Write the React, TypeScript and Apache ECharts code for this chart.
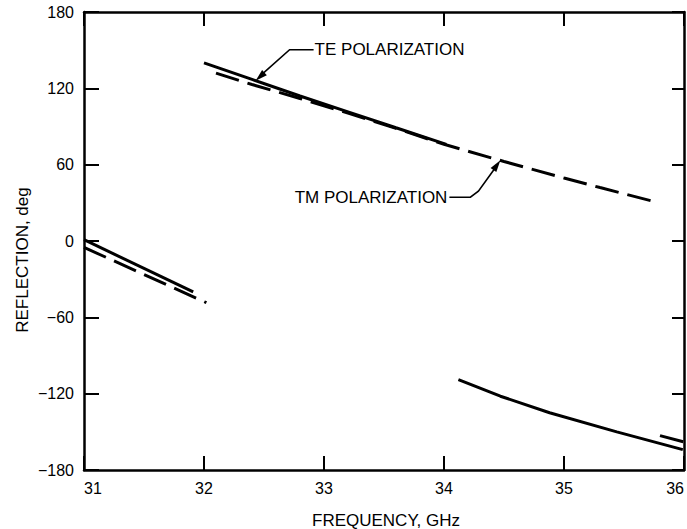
import React, { useEffect, useRef } from "react";
import * as echarts from "echarts";

// Reflection phase (deg) versus frequency (GHz)
const freqTicks = [31, 32, 33, 34, 35, 36];
const phaseTicks = [-180, -120, -60, 0, 60, 120, 180];

// TE polarization (solid), three branches between phase wraps
const teLow: [number, number][] = [[31.0, 1], [31.91, -40]];
const teMid: [number, number][] = [
  [32.0, 140], [32.4, 127], [32.8, 114], [33.2, 101.5], [33.6, 89], [34.02, 76],
];
const teHigh: [number, number][] = [
  [34.12, -109], [34.47, -122], [34.88, -135], [35.44, -150], [35.99, -164],
];

// TM polarization (dashed)
const tmLow: [number, number][] = [[31.0, -5], [32.02, -48.5]];
const tmMid: [number, number][] = [
  [32.1, 132], [32.4, 123], [32.8, 112], [33.2, 100.5], [33.6, 88.5], [34.0, 76],
  [34.5, 62.5], [35.0, 49.5], [35.3, 42], [35.75, 31],
];
const tmHigh: [number, number][] = [[35.8, -153], [36.0, -158]];

// Curve points the callout arrows point at
const teCalloutAt: [number, number] = [32.43, 126];
const tmCalloutAt: [number, number] = [34.47, 63.5];

const FONT = '"Liberation Sans", Arial, Helvetica, sans-serif';
const INK = "#000";

const fmt = (v: number) => (v < 0 ? "\u2212" + Math.abs(v) : String(v));

function arrowHead(tip: number[], from: number[], len = 12, wid = 7) {
  const dx = tip[0] - from[0];
  const dy = tip[1] - from[1];
  const d = Math.hypot(dx, dy) || 1;
  const ux = dx / d, uy = dy / d;
  const nx = -uy, ny = ux;
  const bx = tip[0] - ux * len, by = tip[1] - uy * len;
  return [
    [tip[0], tip[1]],
    [bx + (nx * wid) / 2, by + (ny * wid) / 2],
    [bx - (nx * wid) / 2, by - (ny * wid) / 2],
  ];
}

export default function App() {
  const ref = useRef<HTMLDivElement>(null);

  useEffect(() => {
    if (!ref.current) return;
    const chart = echarts.init(ref.current, undefined, { renderer: "svg" });

    const axisLine = { show: true, onZero: false, lineStyle: { color: INK, width: 2.5 } };
    const tick = (len: number) => ({
      show: true, inside: true, length: len, lineStyle: { color: INK, width: 2 },
    });
    const label = {
      color: INK, fontSize: 16, fontFamily: FONT, formatter: fmt,
    };

    const solid = (name: string, data: [number, number][]) => ({
      name, type: "line", data, showSymbol: false, symbol: "none",
      xAxisIndex: 0, yAxisIndex: 0,
      lineStyle: { color: INK, width: 3, type: "solid" },
    });
    const dashed = (name: string, data: [number, number][]) => ({
      name, type: "line", data, showSymbol: false, symbol: "none",
      xAxisIndex: 0, yAxisIndex: 0,
      lineStyle: { color: INK, width: 3, type: [24, 9], cap: "butt" },
    });

    chart.setOption({
      animation: false,
      backgroundColor: "#fff",
      grid: { left: 84, right: 3, top: 12, bottom: 59 },
      xAxis: [
        {
          type: "value", min: freqTicks[0], max: freqTicks[freqTicks.length - 1], interval: 1,
          position: "bottom", axisLine, axisTick: tick(14),
          axisLabel: { ...label, margin: 10, alignMinLabel: "left", alignMaxLabel: "right" },
          splitLine: { show: false },
        },
        {
          type: "value", min: freqTicks[0], max: freqTicks[freqTicks.length - 1], interval: 1,
          position: "top", axisLine, axisTick: tick(14),
          axisLabel: { show: false }, splitLine: { show: false },
        },
      ],
      yAxis: [
        {
          type: "value", min: phaseTicks[0], max: phaseTicks[phaseTicks.length - 1], interval: 60,
          position: "left", axisLine, axisTick: tick(15),
          axisLabel: { ...label, margin: 10 },
          splitLine: { show: false },
        },
        {
          type: "value", min: phaseTicks[0], max: phaseTicks[phaseTicks.length - 1], interval: 60,
          position: "right", axisLine, axisTick: tick(12),
          axisLabel: { show: false }, splitLine: { show: false },
        },
      ],
      series: [
        solid("TE low", teLow),
        solid("TE mid", teMid),
        solid("TE high", teHigh),
        dashed("TM low", tmLow),
        dashed("TM mid", tmMid),
        dashed("TM high", tmHigh),
      ],
    });

    const teTip = chart.convertToPixel({ gridIndex: 0 }, teCalloutAt) as number[];
    const tmTip = chart.convertToPixel({ gridIndex: 0 }, tmCalloutAt) as number[];

    const teElbow = [teTip[0] + 34, teTip[1] - 31];
    const teTextX = teElbow[0] + 25;
    const tmElbow = [tmTip[0] - 30, tmTip[1] + 37];
    const tmTextX = tmElbow[0] - 23;

    const textStyle = (text: string, align: string) => ({
      text, fill: INK, font: `17px ${FONT}`,
      align, textAlign: align, verticalAlign: "middle", textVerticalAlign: "middle",
    });
    const leader = { stroke: INK, lineWidth: 1.6, fill: "none" };

    chart.setOption({
      graphic: [
        // axis titles
        {
          type: "text", x: 22, y: 260, rotation: Math.PI / 2,
          style: textStyle("REFLECTION, deg", "center"),
        },
        {
          type: "text", x: 386, y: 520,
          style: textStyle("FREQUENCY, GHz", "center"),
        },
        // TE callout
        {
          type: "text", x: teTextX, y: teElbow[1],
          style: textStyle("TE POLARIZATION", "left"),
        },
        {
          type: "polyline",
          shape: { points: [[teTextX - 1, teElbow[1]], teElbow, [teTip[0] + 6, teTip[1] - 6]] },
          style: leader,
        },
        {
          type: "polygon",
          shape: { points: arrowHead(teTip, teElbow) },
          style: { fill: INK },
        },
        // TM callout
        {
          type: "text", x: tmTextX, y: tmElbow[1],
          style: textStyle("TM POLARIZATION", "right"),
        },
        {
          type: "polyline",
          shape: {
            points: [
              [tmTextX + 2, tmElbow[1]], tmElbow,
              [tmElbow[0] + 8, tmElbow[1] - 6], [tmTip[0] - 4, tmTip[1] + 6],
            ],
          },
          style: leader,
        },
        {
          type: "polygon",
          shape: { points: arrowHead(tmTip, [tmElbow[0] + 8, tmElbow[1] - 6]) },
          style: { fill: INK },
        },
      ],
    });

    return () => chart.dispose();
  }, []);

  return (
    <div
      ref={ref}
      style={{ position: "absolute", left: 0, top: 0, width: 687, height: 529, background: "#fff" }}
    />
  );
}
